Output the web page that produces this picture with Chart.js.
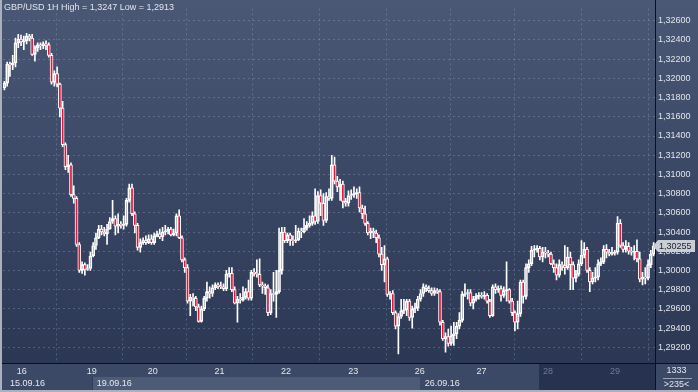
<!DOCTYPE html>
<html>
<head>
<meta charset="utf-8">
<title>GBP/USD 1H</title>
<script src="https://cdn.jsdelivr.net/npm/chart.js@4.4.1/dist/chart.umd.min.js"></script>
<style>
  html, body { margin: 0; padding: 0; background: #2c3854; }
  #wrap { width: 698px; height: 392px; }
</style>
</head>
<body>
<div id="wrap"><canvas id="fxChart" width="698" height="392"></canvas></div>
<script>
// hourly candles, 15.09.16 17:00 -> 29.09.16
const opens = [
  1.3190,1.3195,1.3215,1.3214,1.3216,1.3237,1.3241,1.3238,1.3239,1.3244,
  1.3242,1.3225,1.3232,1.3235,1.3234,1.3236,1.3235,1.3224,1.3196,1.3205,
  1.3194,1.3169,1.3131,1.3108,1.3110,1.3079,1.3075,1.3027,1.3000,1.3006,
  1.3001,1.3002,1.3015,1.3026,1.3034,1.3043,1.3040,1.3038,1.3043,1.3051,
  1.3054,1.3046,1.3048,1.3047,1.3048,1.3073,1.3086,1.3059,1.3047,1.3024,
  1.3029,1.3031,1.3029,1.3033,1.3029,1.3036,1.3038,1.3035,1.3040,1.3041,
  1.3043,1.3037,1.3039,1.3057,1.3034,1.3011,1.3003,1.2968,1.2972,1.2971,
  1.2962,1.2947,1.2960,1.2971,1.2978,1.2976,1.2982,1.2985,1.2984,1.2983,
  1.2981,1.2996,1.2997,1.2980,1.2966,1.2970,1.2969,1.2972,1.2978,1.2971,
  1.2998,1.2997,1.2996,1.2985,1.2984,1.2982,1.2956,1.2976,1.2975,1.2978,
  1.3000,1.3040,1.3031,1.3037,1.3032,1.3031,1.3032,1.3041,1.3040,1.3044,
  1.3047,1.3049,1.3057,1.3051,1.3078,1.3070,1.3052,1.3077,1.3075,1.3110,
  1.3093,1.3087,1.3090,1.3072,1.3070,1.3078,1.3079,1.3080,1.3081,1.3065,
  1.3059,1.3049,1.3039,1.3041,1.3039,1.3034,1.3017,1.3006,1.3012,1.2975,
  1.2976,1.2956,1.2942,1.2952,1.2958,1.2959,1.2968,1.2951,1.2960,1.2961,
  1.2970,1.2976,1.2983,1.2981,1.2979,1.2976,1.2979,1.2978,1.2946,1.2929,
  1.2931,1.2924,1.2932,1.2934,1.2942,1.2948,1.2975,1.2976,1.2977,1.2966,
  1.2970,1.2973,1.2974,1.2973,1.2974,1.2968,1.2953,1.2983,1.2980,1.2981,
  1.2974,1.2979,1.2980,1.2968,1.2956,1.2946,1.2955,1.2988,1.2973,1.3003,
  1.3007,1.3021,1.3022,1.3023,1.3014,1.3019,1.3018,1.3017,1.3007,1.3003,
  1.2995,1.3006,1.3005,1.3003,1.3014,1.3006,1.2992,1.2996,1.3007,1.3016,
  1.3022,1.3000,1.2988,1.2992,1.2993,1.3007,1.3009,1.3022,1.3019,1.3017,
  1.3018,1.3019,1.3049,1.3026,1.3022,1.3025,1.3020,1.3019,1.3020,1.3012,
  1.2991,1.2993,1.2992,1.3006,1.3017
];
const highs = [
  1.3197,1.3217,1.3217,1.3224,1.3242,1.3246,1.3245,1.3244,1.3247,1.3246,
  1.3246,1.3234,1.3237,1.3237,1.3238,1.3239,1.3237,1.3226,1.3208,1.3212,
  1.3195,1.3176,1.3133,1.3120,1.3112,1.3088,1.3077,1.3029,1.3009,1.3008,
  1.3006,1.3019,1.3029,1.3039,1.3047,1.3047,1.3045,1.3048,1.3055,1.3073,
  1.3057,1.3059,1.3051,1.3057,1.3075,1.3090,1.3090,1.3061,1.3049,1.3033,
  1.3034,1.3036,1.3037,1.3037,1.3039,1.3041,1.3043,1.3045,1.3047,1.3045,
  1.3045,1.3043,1.3059,1.3063,1.3036,1.3013,1.3006,1.2975,1.2976,1.2973,
  1.2965,1.2963,1.2973,1.2988,1.2983,1.2985,1.2987,1.2987,1.2988,1.2986,
  1.3000,1.3003,1.3003,1.2983,1.2973,1.2976,1.2983,1.2981,1.2990,1.3000,
  1.3002,1.3011,1.3012,1.2988,1.2986,1.2985,1.2980,1.2998,1.3000,1.3044,
  1.3045,1.3045,1.3039,1.3039,1.3036,1.3047,1.3044,1.3044,1.3054,1.3051,
  1.3057,1.3061,1.3085,1.3082,1.3084,1.3080,1.3081,1.3085,1.3120,1.3118,
  1.3098,1.3095,1.3093,1.3075,1.3083,1.3084,1.3087,1.3085,1.3087,1.3068,
  1.3067,1.3051,1.3044,1.3044,1.3042,1.3037,1.3024,1.3026,1.3014,1.2978,
  1.2979,1.2958,1.2955,1.2970,1.2970,1.2970,1.2970,1.2963,1.2966,1.2973,
  1.2980,1.2986,1.2985,1.2984,1.2982,1.2982,1.2981,1.2980,1.2948,1.2935,
  1.2939,1.2942,1.2946,1.2946,1.2956,1.2978,1.2986,1.2980,1.2980,1.2973,
  1.2976,1.2977,1.2977,1.2978,1.2976,1.2970,1.2985,1.2986,1.2984,1.2984,
  1.2983,1.3009,1.2981,1.2971,1.2958,1.2968,1.2990,1.2990,1.3007,1.3011,
  1.3025,1.3026,1.3026,1.3025,1.3024,1.3024,1.3021,1.3019,1.3011,1.3007,
  1.3011,1.3009,1.3026,1.3024,1.3019,1.3009,1.3000,1.3011,1.3031,1.3029,
  1.3024,1.3003,1.2998,1.3003,1.3011,1.3013,1.3026,1.3027,1.3022,1.3024,
  1.3021,1.3056,1.3053,1.3029,1.3031,1.3029,1.3024,1.3026,1.3032,1.3019,
  1.2998,1.3003,1.3011,1.3021,1.3029
];
const lows = [
  1.3188,1.3192,1.3202,1.3209,1.3212,1.3232,1.3234,1.3230,1.3236,1.3239,
  1.3224,1.3218,1.3228,1.3230,1.3231,1.3230,1.3222,1.3194,1.3192,1.3191,
  1.3160,1.3129,1.3105,1.3102,1.3077,1.3070,1.3025,1.2998,1.2997,1.2995,
  1.3000,1.3000,1.3014,1.3022,1.3033,1.3037,1.3036,1.3027,1.3043,1.3049,
  1.3037,1.3039,1.3044,1.3043,1.3046,1.3071,1.3057,1.3039,1.3021,1.3019,
  1.3027,1.3027,1.3028,1.3027,1.3027,1.3035,1.3033,1.3031,1.3037,1.3038,
  1.3036,1.3036,1.3036,1.3033,1.3009,1.2998,1.2966,1.2953,1.2963,1.2958,
  1.2946,1.2946,1.2958,1.2968,1.2971,1.2973,1.2980,1.2981,1.2981,1.2979,
  1.2979,1.2993,1.2978,1.2965,1.2946,1.2966,1.2968,1.2970,1.2969,1.2969,
  1.2994,1.2993,1.2983,1.2976,1.2975,1.2953,1.2954,1.2968,1.2951,1.2976,
  1.2996,1.3029,1.3029,1.3026,1.3026,1.3029,1.3031,1.3034,1.3039,1.3042,
  1.3045,1.3047,1.3048,1.3049,1.3057,1.3047,1.3050,1.3073,1.3073,1.3090,
  1.3082,1.3073,1.3065,1.3067,1.3067,1.3074,1.3076,1.3075,1.3061,1.3054,
  1.3047,1.3037,1.3033,1.3034,1.3029,1.3014,1.3000,1.2988,1.2973,1.2970,
  1.2954,1.2939,1.2913,1.2950,1.2955,1.2953,1.2948,1.2940,1.2956,1.2958,
  1.2968,1.2973,1.2978,1.2977,1.2974,1.2974,1.2976,1.2943,1.2927,1.2915,
  1.2921,1.2922,1.2922,1.2929,1.2939,1.2946,1.2973,1.2970,1.2963,1.2960,
  1.2968,1.2970,1.2971,1.2970,1.2966,1.2951,1.2952,1.2976,1.2977,1.2968,
  1.2972,1.2968,1.2966,1.2953,1.2937,1.2939,1.2952,1.2966,1.2970,1.2998,
  1.3005,1.3014,1.3019,1.3011,1.3009,1.3013,1.3014,1.3006,1.2998,1.2990,
  1.2993,1.3000,1.2996,1.3001,1.2980,1.2980,1.2988,1.2994,1.3005,1.3013,
  1.2998,1.2978,1.2986,1.2988,1.2990,1.3005,1.3007,1.3013,1.3015,1.3016,
  1.3016,1.3017,1.3024,1.3019,1.3019,1.3017,1.3016,1.3011,1.3009,1.2988,
  1.2985,1.2986,1.2990,1.3003,1.3015
];
const closes = [
  1.3195,1.3215,1.3214,1.3216,1.3237,1.3241,1.3238,1.3239,1.3244,1.3242,
  1.3225,1.3232,1.3235,1.3234,1.3236,1.3235,1.3224,1.3196,1.3205,1.3194,
  1.3169,1.3131,1.3108,1.3110,1.3079,1.3075,1.3027,1.3000,1.3006,1.3001,
  1.3002,1.3015,1.3026,1.3034,1.3043,1.3040,1.3038,1.3043,1.3051,1.3054,
  1.3046,1.3048,1.3047,1.3048,1.3073,1.3086,1.3059,1.3047,1.3024,1.3029,
  1.3031,1.3029,1.3033,1.3029,1.3036,1.3038,1.3035,1.3040,1.3041,1.3043,
  1.3037,1.3039,1.3057,1.3034,1.3011,1.3003,1.2968,1.2972,1.2971,1.2962,
  1.2947,1.2960,1.2971,1.2978,1.2976,1.2982,1.2985,1.2984,1.2983,1.2981,
  1.2996,1.2997,1.2980,1.2966,1.2970,1.2969,1.2972,1.2978,1.2971,1.2998,
  1.2997,1.2996,1.2985,1.2984,1.2982,1.2956,1.2976,1.2975,1.2978,1.3000,
  1.3040,1.3031,1.3037,1.3032,1.3031,1.3032,1.3041,1.3040,1.3044,1.3047,
  1.3049,1.3057,1.3051,1.3078,1.3070,1.3052,1.3077,1.3075,1.3110,1.3093,
  1.3087,1.3090,1.3072,1.3070,1.3078,1.3079,1.3080,1.3081,1.3065,1.3059,
  1.3049,1.3039,1.3041,1.3039,1.3034,1.3017,1.3006,1.3012,1.2975,1.2976,
  1.2956,1.2942,1.2952,1.2958,1.2959,1.2968,1.2951,1.2960,1.2961,1.2970,
  1.2976,1.2983,1.2981,1.2979,1.2976,1.2979,1.2978,1.2946,1.2929,1.2931,
  1.2924,1.2932,1.2934,1.2942,1.2948,1.2975,1.2976,1.2977,1.2966,1.2970,
  1.2973,1.2974,1.2973,1.2974,1.2968,1.2953,1.2983,1.2980,1.2981,1.2974,
  1.2979,1.2980,1.2968,1.2956,1.2946,1.2955,1.2988,1.2973,1.3003,1.3007,
  1.3021,1.3022,1.3023,1.3014,1.3019,1.3018,1.3017,1.3007,1.3003,1.2995,
  1.3006,1.3005,1.3003,1.3014,1.3006,1.2992,1.2996,1.3007,1.3016,1.3022,
  1.3000,1.2988,1.2992,1.2993,1.3007,1.3009,1.3022,1.3019,1.3017,1.3018,
  1.3019,1.3049,1.3026,1.3022,1.3025,1.3020,1.3019,1.3020,1.3012,1.2991,
  1.2993,1.2992,1.3006,1.3017,1.30255
];
const lastPrice = 1.30255;

const priceTicks = [1.292, 1.294, 1.296, 1.298, 1.300, 1.302, 1.304, 1.306, 1.308,
  1.310, 1.312, 1.314, 1.316, 1.318, 1.320, 1.322, 1.324, 1.326];
// day separators, in bar units
const dayTickPos = [6.3, 31.5, 53.5, 77.5, 101.5, 125.7, 149.7, 172, 195.9, 220.1];
const dayLabels = ['16', '19', '20', '21', '22', '23', '26', '27', '28', '29'];
const dateLabels = ['15.09.16', '19.09.16', '26.09.16'];
const dateStarts = [-0.5, 31.5, 149.7];
const dimFrom = 192.7;

const titleText = 'GBP/USD 1H High = 1,3247 Low = 1,2913';
const barsInfo = ['1333', '>235<'];

const fontFamily = "'Liberation Sans', Arial, sans-serif";
const fmt = v => v.toFixed(5).replace('.', ',');

document.addEventListener('DOMContentLoaded', () => {
    Chart.defaults.font.family = fontFamily;
    Chart.defaults.font.size = 9;

    const wickHi = highs.map((h, i) => ({ x: i, y: [Math.max(opens[i], closes[i]), h] }));
    const wickLo = lows.map((l, i) => ({ x: i, y: [l, Math.min(opens[i], closes[i])] }));
    const bodies = closes.map((c, i) => ({ x: i, y: [opens[i], c] }));
    const bodyFill = closes.map((c, i) => c < opens[i] ? '#e3173d' : 'rgba(0,0,0,0)');

    const frame = {
        id: 'frame',
        beforeDraw(chart) {
            const { ctx, chartArea: a, scales: { x } } = chart;
            const W = chart.width, H = chart.height;
            const g = ctx.createLinearGradient(0, 0, 0, a.bottom);
            g.addColorStop(0, '#4a5876');
            g.addColorStop(1, '#2b3753');
            ctx.fillStyle = g;
            ctx.fillRect(0, 0, W, a.bottom);

            // bottom time strip
            ctx.fillStyle = '#3c4966';
            ctx.fillRect(0, a.bottom, W, H - a.bottom);
            const row2 = a.bottom + 14;
            ctx.fillStyle = '#4e5b77';
            const b1 = Math.round(x.getPixelForValue(dateStarts[1]));
            const b2 = Math.round(x.getPixelForValue(dateStarts[2]));
            ctx.fillRect(b1, row2, b2 - b1, H - row2);
            ctx.fillStyle = '#2f3b57';
            ctx.fillRect(b1, row2, 1, H - row2);
            const d = Math.round(x.getPixelForValue(dimFrom));
            ctx.fillStyle = '#263250';
            ctx.fillRect(d, a.bottom, a.right - d, H - a.bottom);
        },
        afterDraw(chart) {
            const { ctx, chartArea: a, scales: { x, y } } = chart;
            const W = chart.width, H = chart.height;
            ctx.save();
            // axis lines
            ctx.fillStyle = '#0c1019';
            ctx.fillRect(0, Math.round(a.bottom), W, 1);
            ctx.fillRect(Math.round(a.right), 0, 1, H);

            ctx.font = '9px ' + fontFamily;
            ctx.textBaseline = 'middle';

            // title
            ctx.fillStyle = '#e1e5ec';
            ctx.textAlign = 'left';
            ctx.fillText(titleText, 4, 8);

            // date bands text
            ctx.fillStyle = '#e6e9ee';
            dateLabels.forEach((t, i) => {
                const px = Math.max(a.left + 7, x.getPixelForValue(dateStarts[i]) + 5);
                ctx.fillText(t, px, a.bottom + 21);
            });

            // last price marker
            const py = Math.round(y.getPixelForValue(lastPrice));
            const r = Math.round(a.right);
            ctx.fillStyle = '#c9cdd4';
            ctx.beginPath();
            ctx.moveTo(r - 2, py);
            ctx.lineTo(r + 3, py - 6);
            ctx.lineTo(r + 40, py - 6);
            ctx.lineTo(r + 40, py + 6);
            ctx.lineTo(r + 3, py + 6);
            ctx.closePath();
            ctx.fill();
            ctx.fillStyle = '#1b1f27';
            ctx.fillText(fmt(lastPrice), r + 4, py + 0.5);

            // bars counter box
            const cx = (r + W) / 2;
            ctx.textAlign = 'center';
            ctx.fillStyle = '#e3e6ec';
            ctx.fillText(barsInfo[0], cx, a.bottom + 8);
            ctx.fillText(barsInfo[1], cx, a.bottom + 22);
            ctx.fillStyle = '#98a1b1';
            ctx.fillRect(r + 8, a.bottom + 15, W - r - 14, 1);

            // outer frame
            ctx.fillStyle = '#aab1bc';
            ctx.fillRect(0, 0, 2, H);
            ctx.fillRect(0, H - 2, W, 2);
            ctx.restore();
        }
    };

    new Chart(document.getElementById('fxChart'), {
        type: 'bar',
        data: {
            datasets: [
                { data: wickHi, backgroundColor: '#ffffff', borderWidth: 0, barThickness: 1, grouped: false, order: 2 },
                { data: wickLo, backgroundColor: '#ffffff', borderWidth: 0, barThickness: 1, grouped: false, order: 2 },
                { data: bodies, backgroundColor: bodyFill, borderColor: '#ffffff', borderWidth: 1,
                  borderSkipped: false, barThickness: 3, grouped: false, order: 1 }
            ]
        },
        options: {
            responsive: false,
            animation: false,
            devicePixelRatio: 1,
            layout: { padding: { left: 3, top: 0, right: 0, bottom: 0 } },
            plugins: { legend: { display: false }, tooltip: { enabled: false } },
            scales: {
                x: {
                    type: 'linear',
                    min: -0.5,
                    max: 234.5,
                    offset: false,
                    afterBuildTicks: s => { s.ticks = dayTickPos.map(v => ({ value: v })); },
                    afterFit: s => { s.height = 29; },
                    grid: { color: 'rgba(150,165,195,0.35)', drawTicks: false },
                    border: { display: false, dash: [2, 3] },
                    ticks: {
                        autoSkip: false,
                        maxRotation: 0,
                        padding: 3,
                        color: c => (c.index >= 8 ? '#6e7a93' : '#e3e6ec'),
                        callback: (v, i) => dayLabels[i]
                    }
                },
                y: {
                    type: 'linear',
                    position: 'right',
                    min: 1.29036,
                    max: 1.32729,
                    afterBuildTicks: s => { s.ticks = priceTicks.map(v => ({ value: v })); },
                    afterFit: s => { s.width = 43; },
                    grid: { color: 'rgba(150,165,195,0.35)', drawTicks: false },
                    border: { display: false, dash: [2, 3] },
                    ticks: {
                        padding: 3,
                        color: '#e1e5ec',
                        callback: v => fmt(v)
                    }
                }
            }
        },
        plugins: [frame]
    });
});
</script>
</body>
</html>
